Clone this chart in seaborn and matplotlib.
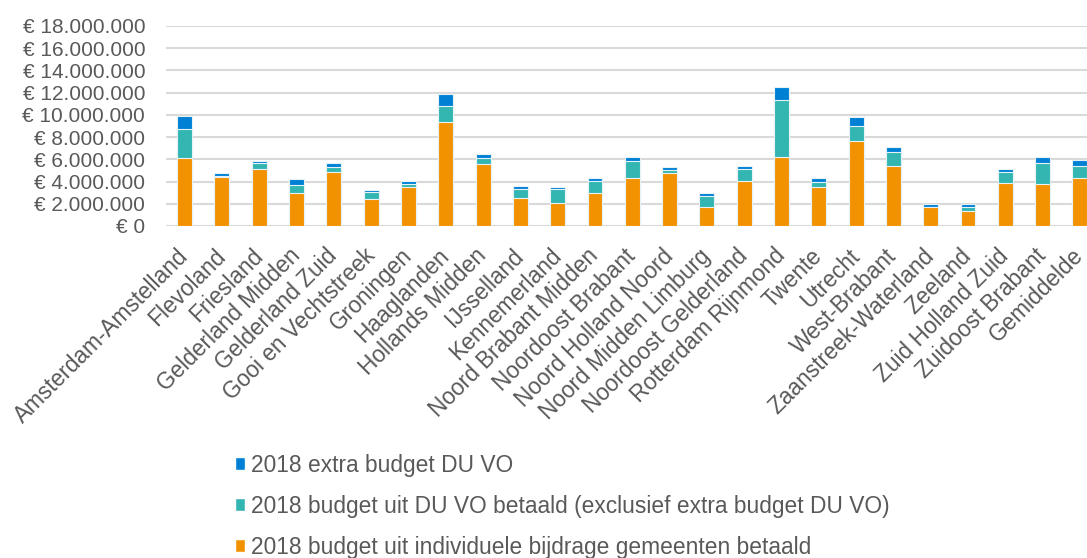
import matplotlib
matplotlib.use("Agg")
import matplotlib.pyplot as plt
from matplotlib.patches import Patch
from matplotlib.ticker import FuncFormatter
import seaborn as sns
import pandas as pd

regions = ["Amsterdam-Amstelland", "Flevoland", "Friesland", "Gelderland Midden",
           "Gelderland Zuid", "Gooi en Vechtstreek", "Groningen", "Haaglanden",
           "Hollands Midden", "IJsselland", "Kennemerland", "Noord Brabant Midden",
           "Noordoost Brabant", "Noord Holland Noord", "Noord Midden Limburg",
           "Noordoost Gelderland", "Rotterdam Rijnmond", "Twente", "Utrecht",
           "West-Brabant", "Zaanstreek-Waterland", "Zeeland", "Zuid Holland Zuid",
           "Zuidoost Brabant", "Gemiddelde"]

gemeenten = [6.09, 4.44, 5.13, 2.94, 4.89, 2.40, 3.48, 9.39, 5.55, 2.55,
             2.10, 2.94, 4.32, 4.74, 1.71, 4.05, 6.24, 3.51, 7.62, 5.43,
             1.71, 1.32, 3.90, 3.78, 4.32]
du_vo = [2.61, 0.09, 0.57, 0.72, 0.42, 0.69, 0.30, 1.38, 0.57, 0.81,
         1.26, 1.11, 1.50, 0.27, 0.96, 1.08, 5.10, 0.42, 1.38, 1.23,
         0.02, 0.39, 0.96, 1.92, 1.11]
extra = [1.23, 0.21, 0.12, 0.54, 0.36, 0.15, 0.27, 1.08, 0.39, 0.27,
         0.15, 0.27, 0.42, 0.27, 0.27, 0.27, 1.20, 0.36, 0.78, 0.42,
         0.25, 0.27, 0.27, 0.54, 0.54]

labels = ["2018 extra budget DU VO",
          "2018 budget uit DU VO betaald (exclusief extra budget DU VO)",
          "2018 budget uit individuele bijdrage gemeenten betaald"]

c_orange = "#F39200"
c_teal = "#33B5B2"
c_blue = "#0080D5"
txt = "#595959"

df = pd.DataFrame({"regio": regions,
                   "g": [v * 1e6 for v in gemeenten],
                   "d": [v * 1e6 for v in du_vo],
                   "e": [v * 1e6 for v in extra]})
df["gd"] = df["g"] + df["d"]
df["tot"] = df["gd"] + df["e"]

sns.set_theme(style="white")
plt.rcParams["font.family"] = ["Liberation Sans", "DejaVu Sans"]

W, H = 1087, 558
fig = plt.figure(figsize=(W / 100, H / 100), dpi=100)
ax = fig.add_axes([166 / W, 1 - 226 / H, (W - 166) / W, 200 / H])

for col, c in [("tot", c_blue), ("gd", c_teal), ("g", c_orange)]:
    sns.barplot(data=df, x="regio", y=col, color=c, width=0.40, ax=ax,
                edgecolor="#e6f2f5", linewidth=0.8, saturation=1, zorder=3)

ax.set_ylim(0, 18e6)
ax.set_yticks([i * 2e6 for i in range(10)])
ax.yaxis.set_major_formatter(FuncFormatter(
    lambda v, p: "€ " + f"{int(round(v)):,}".replace(",", ".")))
ax.set_xlim(-0.5, 24.19)
ax.grid(axis="y", color="#D9D9D9", linewidth=1.5, zorder=0)
ax.set_axisbelow(True)
for s in ax.spines.values():
    s.set_visible(False)
ax.set_xlabel("")
ax.set_ylabel("")
ax.tick_params(axis="y", labelsize=15, labelcolor=txt, length=0, pad=15)
ax.tick_params(axis="x", labelsize=16.3, labelcolor=txt, length=0, pad=19)
for lab in ax.get_xticklabels():
    lab.set_rotation(45)
    lab.set_ha("right")
    lab.set_va("center")
    lab.set_rotation_mode("anchor")

handles = [Patch(facecolor=c_blue), Patch(facecolor=c_teal), Patch(facecolor=c_orange)]
leg = fig.legend(handles, labels, loc="upper left", bbox_to_anchor=(235 / W, 1 - 454 / H),
                 frameon=False, fontsize=16.4, labelcolor=txt, handlelength=0.44,
                 handleheight=0.5, handletextpad=0.25, labelspacing=0.78, borderpad=0,
                 borderaxespad=0)

fig.savefig("out.png", dpi=100)
